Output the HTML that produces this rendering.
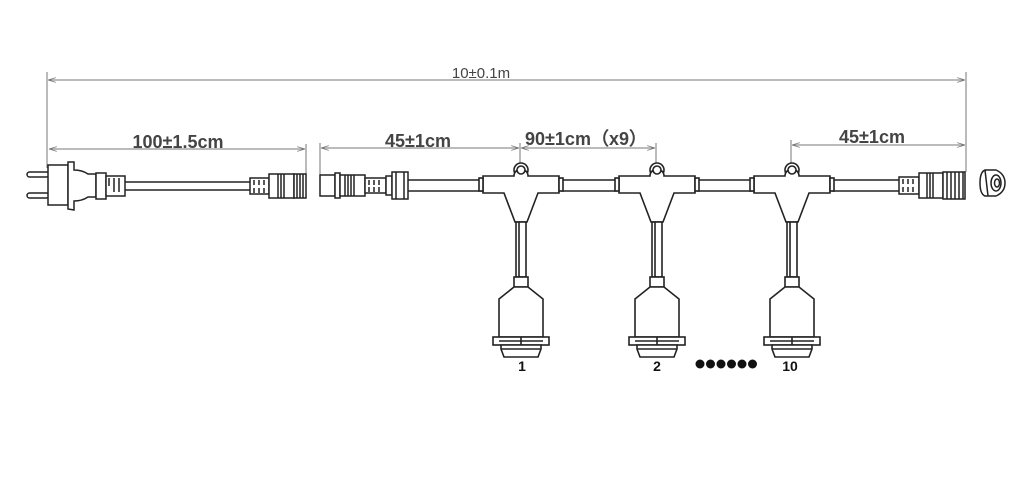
<!DOCTYPE html>
<html><head><meta charset="utf-8"><style>
html,body{margin:0;padding:0;background:#fff;width:1024px;height:480px;overflow:hidden}
svg{display:block}
text{font-family:"Liberation Sans",Arial,sans-serif;fill:#444}
</style></head><body>
<svg width="1024" height="480" viewBox="0 0 1024 480" xmlns="http://www.w3.org/2000/svg">
<defs>
<marker id="a" viewBox="0 0 10 6" refX="10" refY="3" markerWidth="8" markerHeight="5" orient="auto-start-reverse"><path d="M0,0 L10,3 L0,6" fill="none" stroke="#777" stroke-width="1"/></marker>
<g id="T" fill="#fff" stroke="#222" stroke-width="1.6">
  <circle cx="0" cy="-8" r="7"/>
  <path d="M-38,-2 L-7,-2 A7,7 0 0 1 7,-2 L38,-2 L38,15 L17,15 L6,44 L-6,44 L-17,15 L-38,15 Z"/>
  <circle cx="0" cy="-8" r="4"/>
  <rect x="-42" y="0" width="4" height="13"/>
  <rect x="38" y="0" width="4" height="13"/>
  <rect x="-5" y="44" width="10" height="55"/>
  <line x1="-2" y1="44" x2="-2" y2="99"/>
  <rect x="-7" y="99" width="14" height="10"/>
  <path d="M-7,109 L-22,121 L-22,159 L22,159 L22,121 L7,109 Z"/>
  <rect x="-28" y="159" width="56" height="8"/>
  <line x1="-22" y1="163" x2="22" y2="163"/><line x1="0" y1="159" x2="0" y2="167"/>
  <path d="M-20,167 L20,167 L20,171 L17,179 L-17,179 L-20,171 Z"/>
  <line x1="-20" y1="171" x2="20" y2="171"/>
</g>
</defs>
<g stroke="#777" stroke-width="1" fill="none">
  <line x1="47" y1="72" x2="47" y2="168"/>
  <line x1="966" y1="72" x2="966" y2="172"/>
  <line x1="48" y1="80" x2="965" y2="80" marker-start="url(#a)" marker-end="url(#a)"/>
  <line x1="49" y1="149" x2="305" y2="149" marker-start="url(#a)" marker-end="url(#a)"/>
  <line x1="306" y1="144" x2="306" y2="176"/>
  <line x1="320" y1="143" x2="320" y2="176"/>
  <line x1="321" y1="148" x2="519" y2="148" marker-start="url(#a)" marker-end="url(#a)"/>
  <line x1="520" y1="143" x2="520" y2="163"/>
  <line x1="521" y1="148" x2="655" y2="148" marker-start="url(#a)" marker-end="url(#a)"/>
  <line x1="656" y1="143" x2="656" y2="163"/>
  <line x1="791" y1="140" x2="791" y2="163"/>
  <line x1="792" y1="145" x2="965" y2="145" marker-start="url(#a)" marker-end="url(#a)"/>
</g>
<text x="481" y="78" font-size="15" text-anchor="middle">10±0.1m</text>
<text x="178" y="148" font-size="18" text-anchor="middle" font-weight="bold">100±1.5cm</text>
<text x="418" y="147" font-size="18" text-anchor="middle" font-weight="bold">45±1cm</text>
<text x="586" y="145" font-size="18" text-anchor="middle" font-weight="bold">90±1cm（x9）</text>
<text x="872" y="143" font-size="18" text-anchor="middle" font-weight="bold">45±1cm</text>
<g fill="#fff" stroke="#222" stroke-width="1.5">
  <rect x="124" y="182" width="128" height="8"/>
  <rect x="407" y="180" width="75" height="11"/>
  <rect x="562" y="180" width="54" height="11"/>
  <rect x="698" y="180" width="54" height="11"/>
  <rect x="833" y="180" width="70" height="11"/>
</g>
<g fill="#fff" stroke="#222" stroke-width="1.5">
  <rect x="27" y="172" width="22" height="5" rx="2.5"/>
  <rect x="27" y="193" width="22" height="5" rx="2.5"/>
  <rect x="48" y="165" width="20" height="40"/>
  <path d="M68,162 L74,162 L74,170 Q82,170 88,174 L96,174 L96,197 L88,197 Q82,201 74,201 L74,210 L68,209 Z"/>
  <rect x="96" y="173" width="10" height="26"/>
  <rect x="106" y="176" width="19" height="20"/>
  <path d="M109,178 v8 M114,178 v14 M119,178 v14"/>
  <rect x="250" y="178" width="19" height="16"/>
  <path d="M254,180 v5 M259,180 v5 M264,180 v5 M254,188 v5 M259,188 v5 M264,188 v5"/>
  <rect x="269" y="174" width="25" height="24"/>
  <path d="M278,174 v24 M281,174 v24 M284,174 v24"/>
  <rect x="294" y="174" width="12" height="24"/>
  <path d="M297,174 v24 M300,174 v24 M303,174 v24"/>
  <rect x="320" y="175" width="15" height="21"/>
  <rect x="335" y="173" width="5" height="25"/>
  <rect x="340" y="175" width="25" height="21"/>
  <path d="M345,175 v21 M348,175 v21 M351,175 v21 M354,175 v21"/>
  <rect x="365" y="178" width="21" height="15"/>
  <path d="M369,180 v5 M374,180 v5 M379,180 v5 M369,187 v5 M374,187 v5 M379,187 v5"/>
  <rect x="386" y="176" width="6" height="19"/>
  <rect x="392" y="172" width="16" height="27"/>
  <path d="M396,172 v27 M404,172 v27"/>
  <rect x="899" y="177" width="20" height="17"/>
  <path d="M903,179 v5 M908,179 v5 M913,179 v5 M903,187 v5 M908,187 v5 M913,187 v5"/>
  <rect x="919" y="173" width="24" height="25"/>
  <path d="M927,173 v25 M930,173 v25 M933,173 v25"/>
  <rect x="943" y="172" width="22" height="27"/>
  <path d="M947,172 v27 M951,172 v27 M955,172 v27 M959,172 v27 M963,172 v27"/>
  <path d="M985,170 Q980,172 980,183 Q980,194 985,196 L996,196 Q1005,192 1005,183 Q1005,174 996,170 Z"/>
  <ellipse cx="996" cy="183" rx="5" ry="8"/>
  <ellipse cx="997" cy="183" rx="2.5" ry="4"/>
  <path d="M985,170 L988,196"/>
</g>
<use href="#T" x="521" y="178"/>
<use href="#T" x="657" y="178"/>
<use href="#T" x="792" y="178"/>
<g fill="#111">
  <circle cx="700" cy="364" r="4.5"/><circle cx="710.5" cy="364" r="4.5"/><circle cx="721" cy="364" r="4.5"/>
  <circle cx="731.5" cy="364" r="4.5"/><circle cx="742" cy="364" r="4.5"/><circle cx="752.5" cy="364" r="4.5"/>
</g>
<g font-size="14" font-weight="bold" text-anchor="middle">
<text x="522" y="371" style="fill:#111">1</text>
<text x="657" y="371" style="fill:#111">2</text>
<text x="790" y="371" style="fill:#111">10</text>
</g>
</svg>
</body></html>
